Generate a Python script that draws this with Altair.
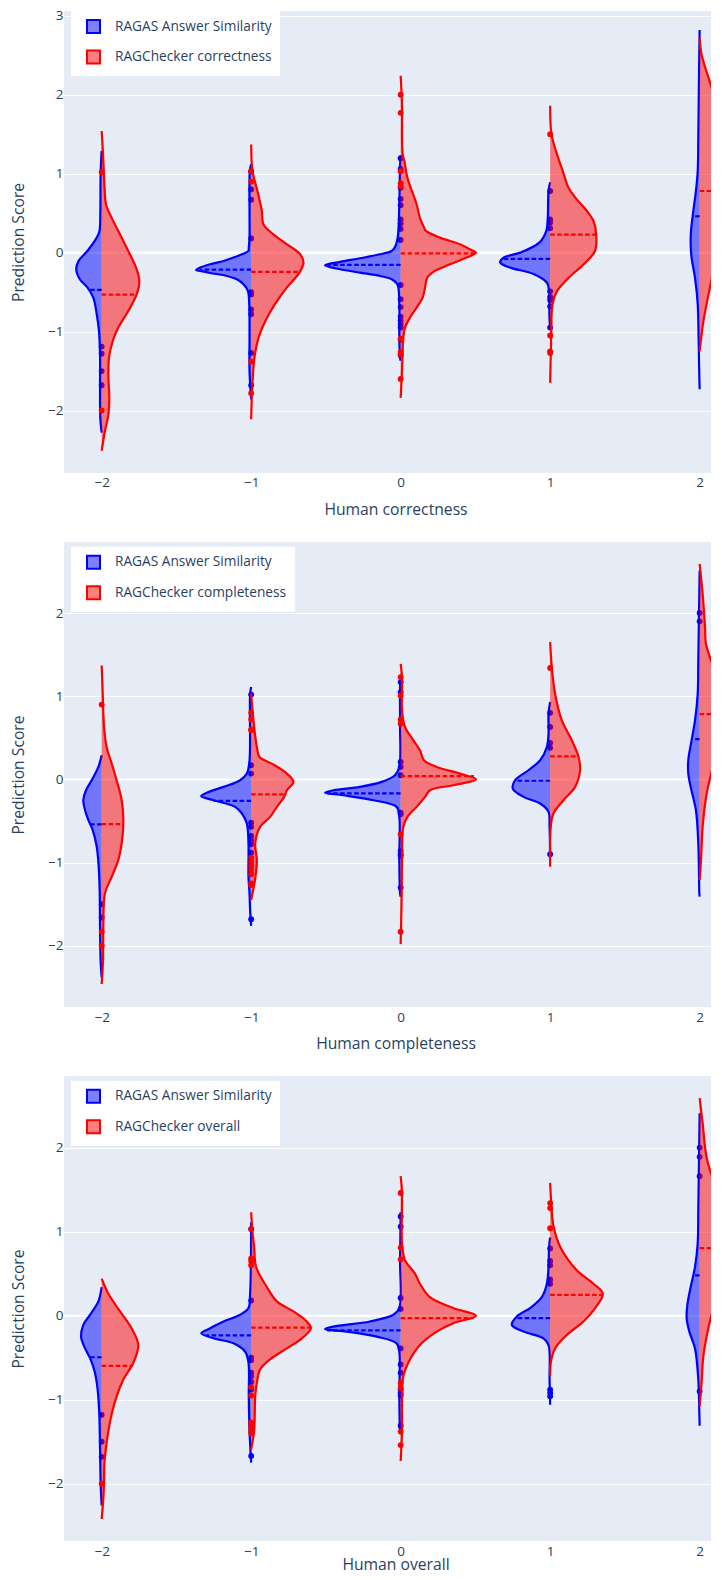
import altair as alt
import pandas as pd

CATS = [-2, -1, 0, 1, 2]
BLUE_NAME = "RAGAS Answer Similarity"
RED_NAMES = ["RAGChecker correctness", "RAGChecker completeness", "RAGChecker overall"]
X_TITLES = ["Human correctness", "Human completeness", "Human overall"]

# ---------- Panel 1 : correctness ----------
# violin half profiles: (score, half width in category units)
CORR_BLUE_SHAPE = {
    -2: [(1.29, 0), (1.0, 0.007), (0.5, 0.009), (0.27, 0.015), (0.19, 0.033), (0.02, 0.096), (-0.105, 0.154),
         (-0.21, 0.17), (-0.34, 0.145), (-0.44, 0.096), (-0.57, 0.056), (-0.78, 0.033), (-0.99, 0.018),
         (-1.29, 0.011), (-1.71, 0.011), (-2.1, 0.009), (-2.28, 0)],
    -1: [(1.12, 0), (1.03, 0.009), (0.5, 0.011), (0.19, 0.011), (0.06, 0.016), (0.021, 0.018), (-0.021, 0.062),
         (-0.063, 0.118), (-0.106, 0.185), (-0.148, 0.275), (-0.19, 0.341), (-0.22, 0.368), (-0.232, 0.341),
         (-0.258, 0.275), (-0.296, 0.163), (-0.338, 0.096), (-0.401, 0.051), (-0.486, 0.022), (-0.65, 0.013),
         (-1.08, 0.011), (-1.5, 0.011), (-1.86, 0)],
    0: [(1.23, 0), (1.1, 0.004), (0.61, 0.009), (0.19, 0.02), (0.063, 0.04), (0.021, 0.06), (-0.021, 0.138),
        (-0.072, 0.272), (-0.118, 0.405), (-0.16, 0.506), (-0.211, 0.405), (-0.253, 0.272), (-0.296, 0.138),
        (-0.338, 0.06), (-0.401, 0.022), (-0.65, 0.009), (-1.08, 0.009), (-1.33, 0.004), (-1.37, 0)],
    1: [(0.89, 0), (0.78, 0.011), (0.44, 0.016), (0.27, 0.027), (0.13, 0.071), (0.0, 0.2), (-0.063, 0.312),
        (-0.127, 0.334), (-0.19, 0.268), (-0.27, 0.111), (-0.38, 0.022), (-0.49, 0.007), (-0.8, 0.005), (-0.97, 0)],
    2: [(2.82, 0), (2.3, 0.004), (1.46, 0.009), (1.03, 0.013), (0.78, 0.025), (0.53, 0.042), (0.27, 0.058),
        (0.1, 0.06), (-0.063, 0.054), (-0.32, 0.031), (-0.65, 0.013), (-1.08, 0.007), (-1.5, 0.003), (-1.73, 0)],
}
CORR_RED_SHAPE = {
    -2: [(1.54, 0), (1.25, 0.009), (0.8, 0.02), (0.61, 0.029), (0.44, 0.067), (0.23, 0.123), (0.02, 0.178),
         (-0.19, 0.23), (-0.36, 0.252), (-0.53, 0.234), (-0.74, 0.178), (-0.95, 0.111), (-1.12, 0.074),
         (-1.33, 0.049), (-1.58, 0.045), (-1.84, 0.051), (-2.05, 0.045), (-2.26, 0.022), (-2.51, 0)],
    -1: [(1.37, 0), (1.03, 0.009), (0.78, 0.042), (0.53, 0.071), (0.36, 0.082), (0.23, 0.149), (0.105, 0.239),
         (-0.02, 0.328), (-0.127, 0.35), (-0.27, 0.317), (-0.44, 0.239), (-0.65, 0.16), (-0.87, 0.094),
         (-1.08, 0.049), (-1.33, 0.022), (-1.71, 0.007), (-2.11, 0)],
    0: [(2.24, 0), (1.88, 0.009), (1.25, 0.013), (1.16, 0.025), (0.95, 0.045), (0.61, 0.107), (0.44, 0.129),
        (0.32, 0.156), (0.275, 0.169), (0.19, 0.263), (0.106, 0.397), (0.042, 0.464), (0.0, 0.504),
        (-0.063, 0.441), (-0.148, 0.33), (-0.232, 0.229), (-0.317, 0.178), (-0.444, 0.163), (-0.57, 0.147),
        (-0.697, 0.107), (-0.824, 0.062), (-0.95, 0.029), (-1.077, 0.018), (-1.5, 0.009), (-1.84, 0)],
    1: [(1.86, 0), (1.5, 0.009), (1.25, 0.045), (1.03, 0.085), (0.82, 0.123), (0.7, 0.167), (0.53, 0.245),
        (0.4, 0.29), (0.23, 0.308), (0.02, 0.3), (-0.15, 0.223), (-0.32, 0.123), (-0.49, 0.045), (-0.65, 0.016),
        (-1.08, 0.007), (-1.65, 0)],
    2: [(2.72, 0), (2.51, 0.013), (2.09, 0.08), (1.75, 0.129), (1.46, 0.165), (1.12, 0.18), (0.78, 0.176),
        (0.4, 0.147), (-0.02, 0.114), (-0.44, 0.069), (-0.87, 0.025), (-1.25, 0)],
}
CORR_BLUE_MEAN = {-2: (-0.473, 0.089), -1: (-0.215, 0.341), 0: (-0.156, 0.49), 1: (-0.08, 0.317), 2: (0.46, 0.042)}
CORR_RED_MEAN = {-2: (-0.532, 0.234), -1: (-0.245, 0.318), 0: (-0.01, 0.5), 1: (0.228, 0.308), 2: (0.78, 0.176)}
CORR_BLUE_PTS = {
    -2: [-1.19, -1.28, -1.50, -1.68],
    -1: [1.03, 0.80, 0.67, 0.18, -0.50, -0.53, -0.72, -0.78, -1.27, -1.68],
    0: [1.195, 1.06, 0.82, 0.68, 0.6, 0.42, 0.37, 0.3, 0.16, -0.41, -0.59, -0.69, -0.81, -0.86, -0.91, -0.95, -1.1, -1.3],
    1: [0.78, 0.42, 0.38, 0.31, -0.49, -0.56, -0.6, -0.68, -0.95],
    2: [],
}
CORR_RED_PTS = {
    -2: [1.02, -2.0],
    -1: [1.03, 0.90, -1.38, -1.78],
    0: [2.0, 1.77, 1.03, 0.88, 0.84, -1.09, -1.26, -1.29, -1.6],
    1: [1.5, -1.05, -1.25, -1.27],
    2: [],
}

# ---------- Panel 2 : completeness ----------
COMP_BLUE_SHAPE = {
    -2: [(0.29, 0), (0.15, 0.022), (-0.01, 0.067), (-0.13, 0.105), (-0.25, 0.123), (-0.37, 0.111), (-0.49, 0.089),
         (-0.61, 0.06), (-0.81, 0.033), (-1.05, 0.02), (-1.37, 0.013), (-1.78, 0.011), (-2.18, 0.007), (-2.38, 0)],
    -1: [(1.11, 0), (1.03, 0.007), (0.23, 0.011), (0.07, 0.029), (-0.01, 0.074), (-0.09, 0.185), (-0.16, 0.297),
         (-0.2, 0.334), (-0.25, 0.252), (-0.33, 0.107), (-0.41, 0.062), (-0.53, 0.029), (-0.77, 0.018),
         (-1.17, 0.018), (-1.37, 0.011), (-1.58, 0.007), (-1.76, 0)],
    0: [(1.23, 0), (1.1, 0.004), (0.63, 0.004), (0.15, 0.009), (0.05, 0.038), (-0.03, 0.127), (-0.09, 0.272),
        (-0.13, 0.45), (-0.16, 0.506), (-0.19, 0.384), (-0.25, 0.183), (-0.33, 0.027), (-0.45, 0.009),
        (-0.97, 0.009), (-1.37, 0.004), (-1.41, 0)],
    1: [(0.93, 0), (0.79, 0.011), (0.55, 0.011), (0.39, 0.022), (0.23, 0.067), (0.11, 0.145), (-0.01, 0.234),
        (-0.11, 0.25), (-0.21, 0.178), (-0.29, 0.067), (-0.39, 0.011), (-0.57, 0.004), (-0.91, 0)],
    2: [(2.51, 0), (2.03, 0.004), (1.43, 0.009), (1.03, 0.013), (0.71, 0.031), (0.47, 0.054), (0.23, 0.076),
        (0.07, 0.076), (-0.09, 0.06), (-0.37, 0.025), (-0.77, 0.009), (-1.37, 0.002), (-1.41, 0)],
}
COMP_RED_SHAPE = {
    -2: [(1.37, 0), (1.03, 0.007), (0.63, 0.016), (0.39, 0.033), (0.19, 0.067), (-0.01, 0.1), (-0.25, 0.134),
         (-0.49, 0.145), (-0.77, 0.134), (-0.97, 0.111), (-1.17, 0.067), (-1.37, 0.022), (-1.78, 0.011),
         (-2.18, 0.009), (-2.46, 0)],
    -1: [(1.03, 0), (0.87, 0.007), (0.63, 0.02), (0.39, 0.038), (0.27, 0.056), (0.19, 0.138), (0.07, 0.239),
         (-0.03, 0.283), (-0.13, 0.239), (-0.21, 0.221), (-0.33, 0.172), (-0.45, 0.127), (-0.57, 0.06),
         (-0.77, 0.027), (-0.97, 0.038), (-1.17, 0.029), (-1.37, 0.009), (-1.45, 0)],
    0: [(1.39, 0), (1.23, 0.009), (0.83, 0.009), (0.63, 0.029), (0.47, 0.085), (0.35, 0.129), (0.23, 0.156),
        (0.15, 0.241), (0.07, 0.397), (0.0, 0.504), (-0.07, 0.352), (-0.13, 0.196), (-0.21, 0.163),
        (-0.33, 0.107), (-0.45, 0.045), (-0.57, 0.018), (-0.97, 0.009), (-1.37, 0.007), (-1.98, 0)],
    1: [(1.65, 0), (1.35, 0.011), (1.03, 0.033), (0.71, 0.078), (0.47, 0.145), (0.27, 0.19), (0.11, 0.2),
        (-0.09, 0.167), (-0.25, 0.089), (-0.41, 0.022), (-0.57, 0.004), (-1.05, 0)],
    2: [(2.59, 0), (2.23, 0.02), (1.83, 0.036), (1.63, 0.042), (1.35, 0.091), (1.11, 0.125), (0.79, 0.136),
        (0.47, 0.118), (0.15, 0.087), (-0.17, 0.047), (-0.57, 0.02), (-0.97, 0.009), (-1.21, 0)],
}
COMP_BLUE_MEAN = {-2: (-0.54, 0.074), -1: (-0.257, 0.25), 0: (-0.168, 0.49), 1: (-0.016, 0.234), 2: (0.485, 0.047)}
COMP_RED_MEAN = {-2: (-0.537, 0.145), -1: (-0.18, 0.227), 0: (0.04, 0.49), 1: (0.277, 0.19), 2: (0.786, 0.13)}
COMP_BLUE_PTS = {
    -2: [-1.5, -1.66],
    -1: [1.02, 0.17, 0.07, -0.52, -0.57, -0.68, -0.73, -0.78, -0.88, -1.26, -1.68],
    0: [1.17, 1.05, 0.21, 0.15, 0.05, -0.4, -0.42, -0.86, -0.9, -0.92, -1.3],
    1: [0.8, 0.63, 0.44, 0.38, -0.9],
    2: [2.0, 1.9],
}
COMP_RED_PTS = {
    -2: [0.9, -1.83, -2.0],
    -1: [0.8, 0.72, 0.6, 0.59, -0.94, -0.99, -1.04, -1.09, -1.14, -1.25, -1.27],
    0: [1.23, 1.01, 0.72, 0.67, -0.66, -1.83],
    1: [1.34],
    2: [],
}

# ---------- Panel 3 : overall ----------
OVER_BLUE_SHAPE = {
    -2: [(0.34, 0), (0.17, 0.022), (0.01, 0.078), (-0.11, 0.123), (-0.25, 0.138), (-0.39, 0.111), (-0.52, 0.074),
         (-0.68, 0.045), (-0.88, 0.027), (-1.17, 0.016), (-1.57, 0.011), (-1.98, 0.007), (-2.26, 0)],
    -1: [(1.11, 0), (0.26, 0.007), (0.09, 0.018), (0.01, 0.074), (-0.07, 0.185), (-0.15, 0.274), (-0.21, 0.334),
         (-0.27, 0.252), (-0.33, 0.118), (-0.43, 0.04), (-0.56, 0.018), (-0.96, 0.016), (-1.37, 0.011), (-1.75, 0)],
    0: [(1.23, 0), (0.66, 0.004), (0.09, 0.009), (0.01, 0.049), (-0.07, 0.205), (-0.13, 0.45), (-0.16, 0.506),
        (-0.19, 0.361), (-0.25, 0.16), (-0.33, 0.027), (-0.43, 0.009), (-0.96, 0.009), (-1.37, 0.004), (-1.41, 0)],
    1: [(0.93, 0), (0.82, 0.007), (0.58, 0.011), (0.38, 0.022), (0.22, 0.056), (0.09, 0.134), (-0.01, 0.223),
        (-0.11, 0.256), (-0.19, 0.178), (-0.27, 0.045), (-0.35, 0.011), (-0.76, 0.004), (-1.06, 0)],
    2: [(2.41, 0), (1.88, 0.004), (1.27, 0.009), (0.86, 0.013), (0.58, 0.031), (0.34, 0.06), (0.13, 0.082),
        (-0.03, 0.087), (-0.19, 0.069), (-0.39, 0.031), (-0.76, 0.009), (-1.17, 0.002), (-1.31, 0)],
}
OVER_RED_SHAPE = {
    -2: [(0.44, 0), (0.26, 0.045), (0.05, 0.123), (-0.15, 0.2), (-0.35, 0.245), (-0.56, 0.212), (-0.76, 0.145),
         (-0.96, 0.1), (-1.17, 0.067), (-1.37, 0.045), (-1.57, 0.029), (-1.77, 0.018), (-1.98, 0.016),
         (-2.18, 0.011), (-2.42, 0)],
    -1: [(1.23, 0), (0.99, 0.009), (0.82, 0.02), (0.58, 0.033), (0.34, 0.105), (0.17, 0.172), (0.05, 0.283),
         (-0.07, 0.372), (-0.15, 0.4), (-0.27, 0.339), (-0.39, 0.239), (-0.52, 0.127), (-0.64, 0.06),
         (-0.8, 0.038), (-0.96, 0.027), (-1.37, 0.02), (-1.59, 0)],
    0: [(1.66, 0), (1.47, 0.009), (0.86, 0.009), (0.66, 0.029), (0.5, 0.096), (0.38, 0.129), (0.22, 0.196),
        (0.09, 0.352), (0.0, 0.504), (-0.09, 0.352), (-0.19, 0.241), (-0.35, 0.129), (-0.56, 0.051),
        (-0.72, 0.018), (-0.96, 0.009), (-1.37, 0.009), (-1.73, 0)],
    1: [(1.58, 0), (1.35, 0.007), (1.07, 0.022), (0.82, 0.067), (0.54, 0.178), (0.38, 0.29), (0.26, 0.352),
        (0.09, 0.301), (-0.07, 0.223), (-0.23, 0.111), (-0.39, 0.033), (-0.56, 0.004), (-0.72, 0)],
    2: [(2.59, 0), (2.29, 0.02), (1.88, 0.047), (1.47, 0.114), (1.07, 0.158), (0.82, 0.169), (0.5, 0.136),
        (0.17, 0.102), (-0.15, 0.058), (-0.48, 0.025), (-0.8, 0.013), (-1.08, 0)],
}
OVER_BLUE_MEAN = {-2: (-0.495, 0.078), -1: (-0.235, 0.3), 0: (-0.175, 0.49), 1: (-0.03, 0.223), 2: (0.479, 0.047)}
OVER_RED_MEAN = {-2: (-0.597, 0.207), -1: (-0.142, 0.395), 0: (-0.03, 0.49), 1: (0.248, 0.352), 2: (0.804, 0.165)}
OVER_BLUE_PTS = {
    -2: [-1.18, -1.5, -1.68],
    -1: [1.03, 0.18, -0.5, -0.53, -0.68, -0.72, -0.79, -0.88, -1.67],
    0: [1.18, 1.06, 0.21, 0.08, -0.39, -0.58, -0.68, -0.88, -0.92, -0.95, -1.31],
    1: [0.8, 0.65, 0.6, 0.43, 0.38, -0.88, -0.92, -0.96],
    2: [2.0, 1.89, 1.66, -0.9],
}
OVER_RED_PTS = {
    -2: [-2.0],
    -1: [1.03, 0.68, 0.65, 0.6, -0.85, -0.95, -1.27, -1.31, -1.36, -1.4],
    0: [1.46, 0.81, 0.67, -0.8, -0.86, -1.38, -1.54],
    1: [1.34, 1.28, 1.04],
    2: [],
}

Y_DOMAINS = [[-2.79, 3.06], [-2.736, 2.854], [-2.682, 2.852]]
Y_TICKS = [[-2, -1, 0, 1, 2, 3], [-2, -1, 0, 1, 2], [-2, -1, 0, 1, 2]]
X_DOMAIN = [-2.252, 2.183]

FONT = "Open Sans"
TXT = "#2a3f5f"
BLUE = "#0000ff"
RED = "#ff0000"


def shape_df(shapes, side, series):
    rows = []
    for cat, prof in shapes.items():
        for y, w in prof:
            rows.append({"cat": cat, "y": y, "w": w, "side": side, "series": series})
    return pd.DataFrame(rows)


def mean_df(means, side):
    return pd.DataFrame([{"cat": c, "y": m[0], "w": m[1], "side": side} for c, m in means.items()])


def pts_df(pts):
    rows = [{"cat": c, "y": v} for c, vals in pts.items() for v in vals]
    return pd.DataFrame(rows, columns=["cat", "y"])


def panel(i, blue_shape, red_shape, blue_mean, red_mean, blue_pts, red_pts, height, legend_y, xtitle_pad):
    red_name = RED_NAMES[i]
    names = [BLUE_NAME, red_name]
    xs = alt.Scale(domain=X_DOMAIN, nice=False, zero=False)
    ys = alt.Scale(domain=Y_DOMAINS[i], nice=False, zero=False)
    xax = alt.Axis(values=CATS, format="d", grid=False, ticks=False, domain=False, labelPadding=3,
                   titlePadding=xtitle_pad)
    yax = alt.Axis(values=Y_TICKS[i], format="d", grid=True, gridColor="white", gridWidth=1, ticks=False,
                   domain=False, labelPadding=1, titlePadding=21.5)
    fill_sc = alt.Scale(domain=names, range=["rgba(0,0,255,0.5)", "rgba(255,0,0,0.5)"])
    stroke_sc = alt.Scale(domain=names, range=[BLUE, RED])
    leg = alt.Legend(title=None, orient="none", legendX=7, legendY=legend_y, direction="vertical",
                     fillColor="white", padding=8, symbolType="square", symbolSize=169, symbolStrokeWidth=2,
                     symbolOffset=7, labelOffset=14, rowPadding=9.5, labelFont=FONT, labelFontSize=13.7,
                     labelColor=TXT, labelLimit=400)

    def X(field):
        return alt.X(field, type="quantitative", scale=xs, axis=xax, title=X_TITLES[i])

    def Y():
        return alt.Y("y:Q", scale=ys, axis=yax, title="Prediction Score")

    calc = "datum.cat + datum.side * datum.w"
    zero = alt.Chart(pd.DataFrame({"y": [0.0]})).mark_rule(color="white", strokeWidth=2).encode(y=Y())

    layers = [zero]
    for shapes, means, pts, side, name, col in [
        (blue_shape, blue_mean, blue_pts, -1, BLUE_NAME, BLUE),
        (red_shape, red_mean, red_pts, 1, red_name, RED),
    ]:
        sdf = shape_df(shapes, side, name)
        area = alt.Chart(sdf).transform_calculate(xe=calc).mark_area(
            orient="horizontal", interpolate="catmull-rom", clip=True
        ).encode(
            y=Y(), x=alt.X("xe:Q", scale=xs, axis=xax, title=X_TITLES[i], stack=False), x2=alt.X2("cat:Q"),
            detail="cat:N",
            fill=alt.Fill("series:N", scale=fill_sc, legend=leg),
        )
        line = alt.Chart(sdf).transform_calculate(xe=calc).mark_line(
            interpolate="catmull-rom", strokeWidth=2.2, clip=True
        ).encode(
            y=Y(), x=X("xe"), detail="cat:N", order=alt.Order("y:Q"),
            stroke=alt.Stroke("series:N", scale=stroke_sc, legend=leg),
        )
        mean = alt.Chart(mean_df(means, side)).transform_calculate(xe=calc).mark_rule(
            color=col, strokeWidth=2.2, strokeDash=[4.5, 2.5], clip=True
        ).encode(y=Y(), x=X("cat"), x2=alt.X2("xe:Q"))
        dots = alt.Chart(pts_df(pts)).mark_circle(size=34, color=col, opacity=1, clip=True).encode(
            x=X("cat"), y=Y()
        )
        layers += [area, line, mean, dots]

    return alt.layer(*layers).properties(width=663, height=height)


p1 = panel(0, CORR_BLUE_SHAPE, CORR_RED_SHAPE, CORR_BLUE_MEAN, CORR_RED_MEAN, CORR_BLUE_PTS, CORR_RED_PTS,
           461.9, 0, 13)
p2 = panel(1, COMP_BLUE_SHAPE, COMP_RED_SHAPE, COMP_BLUE_MEAN, COMP_RED_MEAN, COMP_BLUE_PTS, COMP_RED_PTS,
           465, 4.7, 13)
p3 = panel(2, OVER_BLUE_SHAPE, OVER_RED_SHAPE, OVER_BLUE_MEAN, OVER_RED_MEAN, OVER_BLUE_PTS, OVER_RED_PTS,
           465, 4.7, 0)

chart = alt.vconcat(p1, p2, p3, spacing=24).resolve_scale(
    x="independent", y="independent", fill="independent", stroke="independent"
).resolve_legend(fill="independent", stroke="independent").properties(
    padding={"left": 2, "top": 0, "right": -17, "bottom": 0},
    background="white",
).configure_view(fill="#E5ECF6", strokeWidth=0).configure_axis(
    labelFont=FONT, labelFontSize=13.5, labelColor=TXT, titleFont=FONT, titleFontSize=15.7,
    titleFontWeight="normal", titleColor=TXT
)

chart.save("out.html", embed_options={"renderer": "svg", "actions": False})
